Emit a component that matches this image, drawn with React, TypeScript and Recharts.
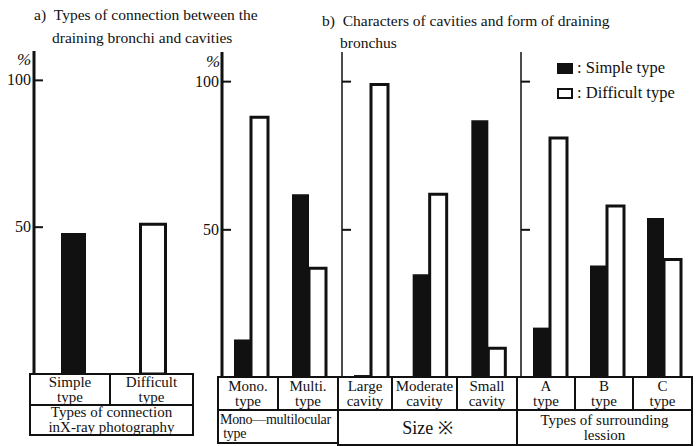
import React from "react";
import { BarChart, Bar, XAxis, YAxis } from "recharts";

// a) connection between draining bronchi and cavities
const connectionCategories = ["Simple type", "Difficult type"];
const connectionSimple = [48, 0];
const connectionDifficult = [0, 51];

// b) characters of cavities
const loculeCategories = ["Mono. type", "Multi. type"];
const loculeSimple = [13, 62];
const loculeDifficult = [88, 37];

const sizeCategories = ["Large cavity", "Moderate cavity", "Small cavity"];
const sizeSimple = [1, 35, 87];
const sizeDifficult = [99, 62, 10];

const lesionCategories = ["A type", "B type", "C type"];
const lesionSimple = [17, 38, 54];
const lesionDifficult = [81, 58, 40];

const yTicks = [50, 100];

const FONT = "Liberation Serif";
const INK = "#111";

const toRows = (cats: string[], simple: number[], difficult: number[]) =>
  cats.map((c, i) => ({ category: c, simple: simple[i], difficult: difficult[i] }));

const AxisTick = (props: any) => {
  const { x = 0, y = 0, payload, showLabel } = props;
  return (
    <g>
      <line x1={x} y1={y} x2={x + 9} y2={y} stroke={INK} strokeWidth={2} />
      {showLabel && (
        <text x={x - 3} y={y} dy={5} textAnchor="end" fontSize={16} fontFamily={FONT} fill={INK}>
          {payload.value}
        </text>
      )}
    </g>
  );
};

type PanelProps = {
  left: number;
  top: number;
  width: number;
  height: number;
  marginTop: number;
  axisWidth: number;
  axisStroke: number;
  showLabels: boolean;
  barSize: number;
  stacked?: boolean;
  data: { category: string; simple: number; difficult: number }[];
};

const Panel = ({ left, top, width, height, marginTop, axisWidth, axisStroke, showLabels, barSize, stacked, data }: PanelProps) => (
  <div style={{ position: "absolute", left, top }}>
    <BarChart
      width={width}
      height={height}
      data={data}
      margin={{ top: marginTop, right: 0, bottom: 0, left: 0 }}
      barGap={0}
      barSize={barSize}
    >
      <XAxis dataKey="category" hide />
      <YAxis
        domain={[0, 110]}
        ticks={yTicks}
        width={axisWidth}
        tickSize={0}
        tickMargin={0}
        tickLine={false}
        axisLine={{ stroke: INK, strokeWidth: axisStroke }}
        tick={<AxisTick showLabel={showLabels} />}
        interval={0}
      />
      <Bar dataKey="simple" stackId={stacked ? "s" : undefined} fill={INK} isAnimationActive={false} />
      <Bar
        dataKey="difficult"
        stackId={stacked ? "s" : undefined}
        fill="#fff"
        stroke={INK}
        strokeWidth={3}
        isAnimationActive={false}
      />
    </BarChart>
  </div>
);

const Box = ({ x, y, w, h, children, align = "center", size = 14, spacing = 0 }: any) => (
  <div
    style={{
      position: "absolute",
      left: x - 1,
      top: y - 1,
      width: w + 2,
      height: h + 2,
      border: `2px solid ${INK}`,
      boxSizing: "border-box",
      display: "flex",
      flexDirection: "column",
      justifyContent: "center",
      alignItems: align === "left" ? "flex-start" : "center",
      paddingLeft: align === "left" ? 1 : 0,
      fontFamily: FONT,
      fontSize: size,
      lineHeight: `${size}px`,
      letterSpacing: spacing,
      color: INK,
      whiteSpace: "nowrap",
      overflow: "hidden",
      textAlign: align,
      background: "#fff",
    }}
  >
    {children}
  </div>
);

const twoLine = (label: string) => {
  const i = label.indexOf(" ");
  return (
    <>
      <span>{label.slice(0, i)}</span>
      <span>{label.slice(i + 1)}</span>
    </>
  );
};

const Txt = ({ x, y, children, size = 15, style }: any) => (
  <div
    style={{
      position: "absolute",
      left: x,
      top: y,
      fontFamily: FONT,
      fontSize: size,
      lineHeight: `${size}px`,
      color: INK,
      whiteSpace: "nowrap",
      ...style,
    }}
  >
    {children}
  </div>
);

export default function App() {
  const rowA = [30, 110, 193];
  const rowB1 = [218, 278, 338, 392, 457, 517, 575, 633, 692];
  const catsB = [...loculeCategories, ...sizeCategories, ...lesionCategories];
  return (
    <div style={{ position: "absolute", left: 0, top: 0, width: 696, height: 446, background: "#fff", overflow: "hidden" }}>
      {/* titles */}
      <Txt x={34} y={7} size={15.5}>a)&nbsp;&nbsp;Types of connection between the</Txt>
      <Txt x={52} y={30} size={15.5}>draining bronchi and cavities</Txt>
      <Txt x={322} y={13} size={15.5}>b)&nbsp;&nbsp;Characters of cavities and form of draining</Txt>
      <Txt x={340} y={35} size={15.5}>bronchus</Txt>

      <Txt x={17} y={51} size={17} style={{ fontStyle: "italic" }}>%</Txt>
      <Txt x={206} y={53} size={17} style={{ fontStyle: "italic" }}>%</Txt>

      <Panel left={0} top={0} width={193} height={374} marginTop={51} axisWidth={34} axisStroke={3}
        showLabels barSize={25} stacked data={toRows(connectionCategories, connectionSimple, connectionDifficult)} />
      <Panel left={190} top={0} width={148} height={378} marginTop={52} axisWidth={32} axisStroke={3}
        showLabels barSize={17} data={toRows(loculeCategories, loculeSimple, loculeDifficult)} />
      <Panel left={338} top={0} width={180} height={378} marginTop={52} axisWidth={4} axisStroke={1.5}
        showLabels={false} barSize={17} data={toRows(sizeCategories, sizeSimple, sizeDifficult)} />
      <Panel left={517} top={0} width={175} height={378} marginTop={52} axisWidth={4} axisStroke={1.5}
        showLabels={false} barSize={17} data={toRows(lesionCategories, lesionSimple, lesionDifficult)} />

      {/* legend */}
      <div style={{ position: "absolute", left: 557, top: 63, width: 16, height: 11, background: INK }} />
      <div style={{ position: "absolute", left: 557, top: 88, width: 16, height: 11, border: `2px solid ${INK}`, boxSizing: "border-box" }} />
      <Txt x={577} y={60} size={16.5}>: Simple type</Txt>
      <Txt x={577} y={85} size={16.5}>: Difficult type</Txt>

      {/* table a */}
      {connectionCategories.map((c, i) => (
        <Box key={c} x={rowA[i]} y={374} w={rowA[i + 1] - rowA[i]} h={31} size={15}>{twoLine(c)}</Box>
      ))}
      <Box x={30} y={405} w={163} h={30} size={15}>
        <span>Types of connection</span>
        <span>inX-ray photography</span>
      </Box>

      {/* table b */}
      {catsB.map((c, i) => (
        <Box key={c} x={rowB1[i]} y={377} w={rowB1[i + 1] - rowB1[i]} h={33} size={15}>{twoLine(c)}</Box>
      ))}
      <Box x={218} y={410} w={120} h={33} size={14} spacing={-0.3} align="left">
        <span>Mono—multilocular</span>
        <span>&nbsp;type</span>
      </Box>
      <Box x={338} y={410} w={179} h={35} size={18}>Size ※</Box>
      <Box x={517} y={410} w={175} h={35} size={15}>
        <span>Types of surrounding</span>
        <span>lession</span>
      </Box>
    </div>
  );
}
